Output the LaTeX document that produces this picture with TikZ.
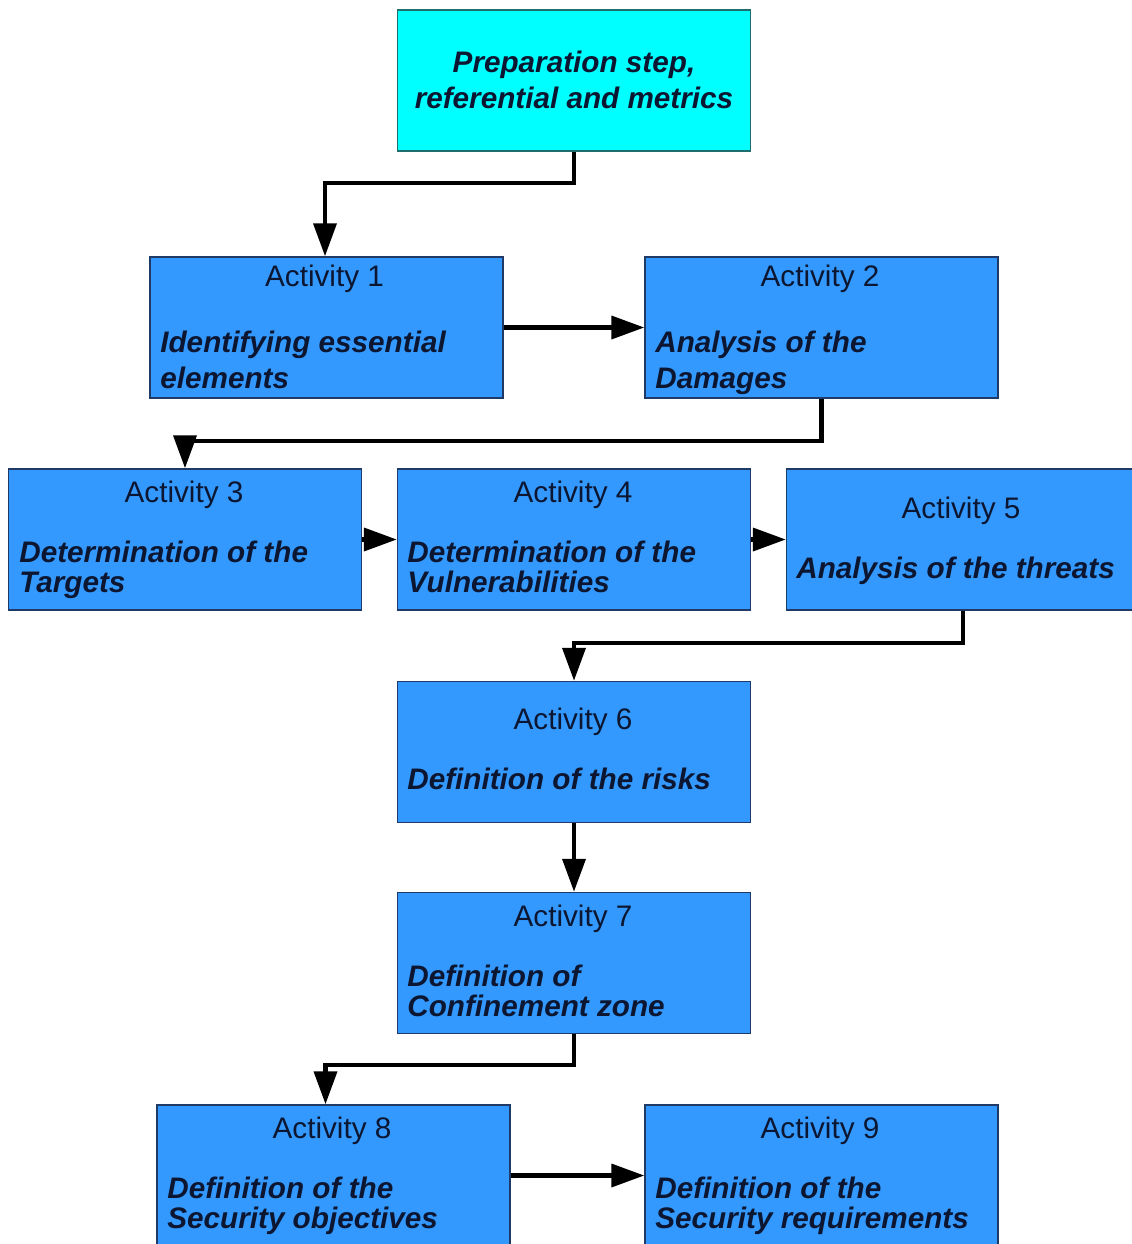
\documentclass[tikz,border=0pt]{standalone}
\usepackage{fontspec}
\setmainfont{Liberation Sans}
\usetikzlibrary{arrows.meta}
\definecolor{boxblue}{HTML}{3399FF}
\definecolor{boxcyan}{HTML}{00FFFF}
\definecolor{boxedge}{HTML}{1F3A66}
\definecolor{cyanedge}{HTML}{1E6E6E}
\definecolor{txt}{HTML}{0C1630}
\tikzset{
  box/.style={draw=boxedge, fill=boxblue, line width=0.9pt, rectangle, inner sep=0pt,
    minimum width=7.06cm, minimum height=2.82cm},
  prepbox/.style={box, draw=cyanedge, fill=boxcyan},
  actlbl/.style={anchor=base, inner sep=0pt, text=txt, font=\fontsize{16.9}{20}\selectfont},
  desc/.style={anchor=base west, inner sep=0pt, text=txt, font=\fontsize{16.9}{20}\selectfont\bfseries\itshape},
  desccenter/.style={desc, anchor=base},
  conn/.style={draw=black, line width=2.3pt, -{Triangle[length=18.7pt,width=13pt]}},
}
\begin{document}
\begin{tikzpicture}[x=0.02cm, y=-0.02cm]
\path[use as bounding box] (0,0) rectangle (1132,1244);
\clip (0,0) rectangle (1132,1244);
% boxes
\node[prepbox] (prep) at (574,80.5) {};
\node[box] (a1) at (326.5,327.5) {};
\node[box] (a2) at (821.5,327.5) {};
\node[box] (a3) at (185,539.5) {};
\node[box] (a4) at (574,539.5) {};
\node[box] (a5) at (963,539.5) {};
\node[box] (a6) at (574,752) {};
\node[box] (a7) at (574,963) {};
\node[box] (a8) at (333.5,1175.5) {};
\node[box] (a9) at (821.5,1175.5) {};
% texts
\node[desccenter] (tp1) at (574,72) {Preparation step,};
\node[desccenter] (tp2) at (574,108) {referential and metrics};

\node[actlbl] (t1) at (324.5,286) {Activity 1};
\node[desc] (t1a) at (160,352) {Identifying essential};
\node[desc] (t1b) at (160,388) {elements};

\node[actlbl] (t2) at (820,286) {Activity 2};
\node[desc] (t2a) at (655,352) {Analysis of the};
\node[desc] (t2b) at (655,388) {Damages};

\node[actlbl] (t3) at (184,502) {Activity 3};
\node[desc] (t3a) at (19,562) {Determination of the};
\node[desc] (t3b) at (19,592) {Targets};

\node[actlbl] (t4) at (573,502) {Activity 4};
\node[desc] (t4a) at (407,562) {Determination of the};
\node[desc] (t4b) at (407,592) {Vulnerabilities};

\node[actlbl] (t5) at (961,518) {Activity 5};
\node[desc] (t5a) at (796,578) {Analysis of the threats};

\node[actlbl] (t6) at (573,729) {Activity 6};
\node[desc] (t6a) at (407,789) {Definition of the risks};

\node[actlbl] (t7) at (573,926) {Activity 7};
\node[desc] (t7a) at (407,986) {Definition of};
\node[desc] (t7b) at (407,1016) {Confinement zone};

\node[actlbl] (t8) at (332,1138) {Activity 8};
\node[desc] (t8a) at (167,1198) {Definition of the};
\node[desc] (t8b) at (167,1228) {Security objectives};

\node[actlbl] (t9) at (820,1138) {Activity 9};
\node[desc] (t9a) at (655,1198) {Definition of the};
\node[desc] (t9b) at (655,1228) {Security requirements};
% connectors
\draw[conn] (prep.south) -- ++(0,31) -| ([xshift=-0.03cm]a1.north);
\draw[conn] (a1.east) -- (a2.west);
\draw[conn] (a2.south) -- ++(0,42) -| (a3.north);
\draw[conn] (a3.east) -- (a4.west);
\draw[conn] (a4.east) -- (a5.west);
\draw[conn] (a5.south) -- ++(0,32) -| (a6.north);
\draw[conn] (a6.south) -- (a7.north);
\draw[conn] (a7.south) -- ++(0,31) -| ([xshift=-0.16cm]a8.north);
\draw[conn] (a8.east) -- (a9.west);
\end{tikzpicture}
\end{document}
